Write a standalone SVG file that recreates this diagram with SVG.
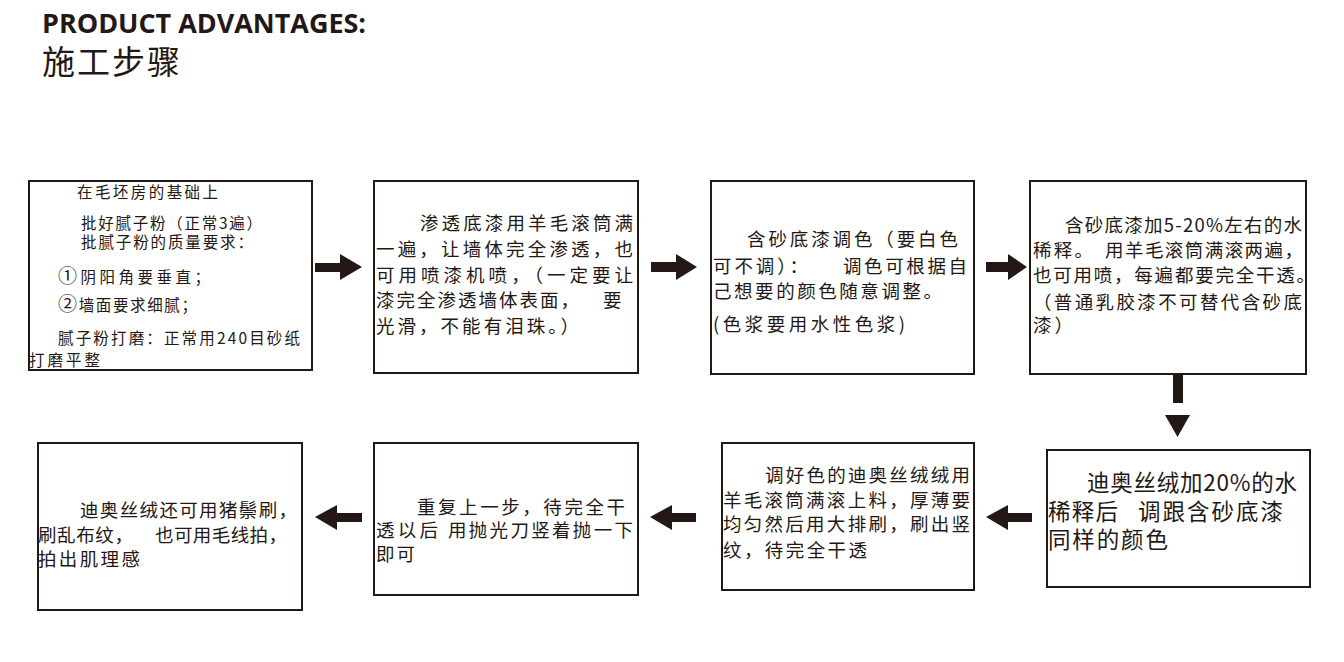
<svg xmlns="http://www.w3.org/2000/svg" width="1344" height="662" viewBox="0 0 1344 662">
<style>
.box{fill:#fff;stroke:#231815;stroke-width:2}
.t{font-family:"Noto Sans CJK SC","Liberation Serif",serif;fill:#231815;font-size:18.5px}
.t.big{font-size:22.5px}
.s{font-family:"Noto Sans CJK SC","Liberation Sans",sans-serif;fill:#231815;font-size:15.5px}
.c{font-size:19px}
.arr{fill:#231815}
</style>
<rect width="1344" height="662" fill="#fff"/>
<g id="title">
<text x="42" y="33" font-family="'Open Sans','Liberation Sans',sans-serif" font-weight="bold" font-size="26" fill="#231815" textLength="324" lengthAdjust="spacingAndGlyphs">PRODUCT ADVANTAGES:</text>
<text x="42" y="74" font-family="'Noto Sans CJK SC',serif" font-size="33" fill="#231815" textLength="138">施工步骤</text>
</g>
<g id="step1">
<rect class="box" x="29" y="181" width="283" height="189"/>
<text class="s" x="77" y="198" textLength="141">在毛坯房的基础上</text>
<text class="s" x="81" y="229" textLength="181">批好腻子粉（正常3遍）</text>
<text class="s" x="81" y="248" textLength="172">批腻子粉的质量要求：</text>
<text class="s" x="58" y="283" textLength="152"><tspan class="c">①</tspan>阴阳角要垂直；</text>
<text class="s" x="58" y="311" textLength="139"><tspan class="c">②</tspan>墙面要求细腻；</text>
<text class="s" x="58" y="344" textLength="242">腻子粉打磨：正常用240目砂纸</text>
<text class="s" x="29" y="366" textLength="71">打磨平整</text>
</g>
<g id="step2">
<rect class="box" x="374" y="181" width="264" height="192"/>
<text class="t" x="420" y="230" textLength="213">渗透底漆用羊毛滚筒满</text>
<text class="t" x="376" y="256" textLength="257">一遍，让墙体完全渗透，也</text>
<text class="t" x="376" y="282" textLength="257">可用喷漆机喷，（一定要让</text>
<text class="t" x="376" y="307"><tspan textLength="203">漆完全渗透墙体表面，</tspan><tspan x="603">要</tspan></text>
<text class="t" x="376" y="333" textLength="203">光滑，不能有泪珠。）</text>
</g>
<g id="step3">
<rect class="box" x="711" y="181" width="263" height="193"/>
<text class="t" x="747" y="246" textLength="211">含砂底漆调色（要白色</text>
<text class="t" x="713" y="273"><tspan textLength="95">可不调）：</tspan><tspan x="843" textLength="124">调色可根据自</tspan></text>
<text class="t" x="713" y="298" textLength="229">己想要的颜色随意调整。</text>
<text class="t" x="713" y="331" textLength="192">(色浆要用水性色浆)</text>
</g>
<g id="step4">
<rect class="box" x="1030" y="181" width="276" height="193"/>
<text class="t" x="1065" y="232" textLength="237">含砂底漆加5-20%左右的水</text>
<text class="t" x="1033" y="257"><tspan textLength="60">稀释。</tspan><tspan x="1105" textLength="198">用羊毛滚筒满滚两遍，</tspan></text>
<text class="t" x="1033" y="282" textLength="282">也可用喷，每遍都要完全干透。</text>
<text class="t" x="1033" y="309" textLength="269">（普通乳胶漆不可替代含砂底</text>
<text class="t" x="1033" y="332" textLength="40">漆）</text>
</g>
<g id="step5">
<rect class="box" x="1047" y="450" width="263" height="137"/>
<text class="t big" x="1087" y="491" textLength="210">迪奥丝绒加20%的水</text>
<text class="t big" x="1048" y="520"><tspan textLength="70">稀释后</tspan><tspan x="1138" textLength="145">调跟含砂底漆</tspan></text>
<text class="t big" x="1048" y="548" textLength="120">同样的颜色</text>
</g>
<g id="step6">
<rect class="box" x="722" y="443" width="252" height="147"/>
<text class="t" x="765" y="482" textLength="205">调好色的迪奥丝绒绒用</text>
<text class="t" x="723" y="507" textLength="247">羊毛滚筒满滚上料，厚薄要</text>
<text class="t" x="723" y="531" textLength="247">均匀然后用大排刷，刷出竖</text>
<text class="t" x="723" y="557" textLength="144">纹，待完全干透</text>
</g>
<g id="step7">
<rect class="box" x="374" y="443" width="264" height="152"/>
<text class="t" x="417" y="514" textLength="208">重复上一步，待完全干</text>
<text class="t" x="376" y="537"><tspan textLength="62">透以后</tspan><tspan x="448" textLength="185">用抛光刀竖着抛一下</tspan></text>
<text class="t" x="376" y="561" textLength="39">即可</text>
</g>
<g id="step8">
<rect class="box" x="38" y="443" width="264" height="167"/>
<text class="t" x="80" y="517" textLength="217">迪奥丝绒还可用猪鬃刷，</text>
<text class="t" x="38" y="542"><tspan textLength="95">刷乱布纹，</tspan><tspan x="155" textLength="132">也可用毛线拍，</tspan></text>
<text class="t" x="38" y="566" textLength="102">拍出肌理感</text>
</g>
<g id="connectors">
<polygon class="arr" points="315,263 340,263 340,254 362,267 340,280 340,272 315,272"/>
<polygon class="arr" points="651,262 676,262 676,254 697,267 676,280 676,272 651,272"/>
<polygon class="arr" points="986,262 1008,262 1008,254 1027,267 1008,280 1008,272 986,272"/>
<rect class="arr" x="1173" y="375" width="10" height="28"/>
<polygon class="arr" points="1165,415 1190,415 1177.5,437"/>
<polygon class="arr" points="1032,513 1008,513 1008,505 986,517 1008,530 1008,522 1032,522"/>
<polygon class="arr" points="696,513 672,513 672,505 650,517 672,530 672,522 696,522"/>
<polygon class="arr" points="362,513 337,513 337,505 315,517 337,530 337,522 362,522"/>
</g>
</svg>
